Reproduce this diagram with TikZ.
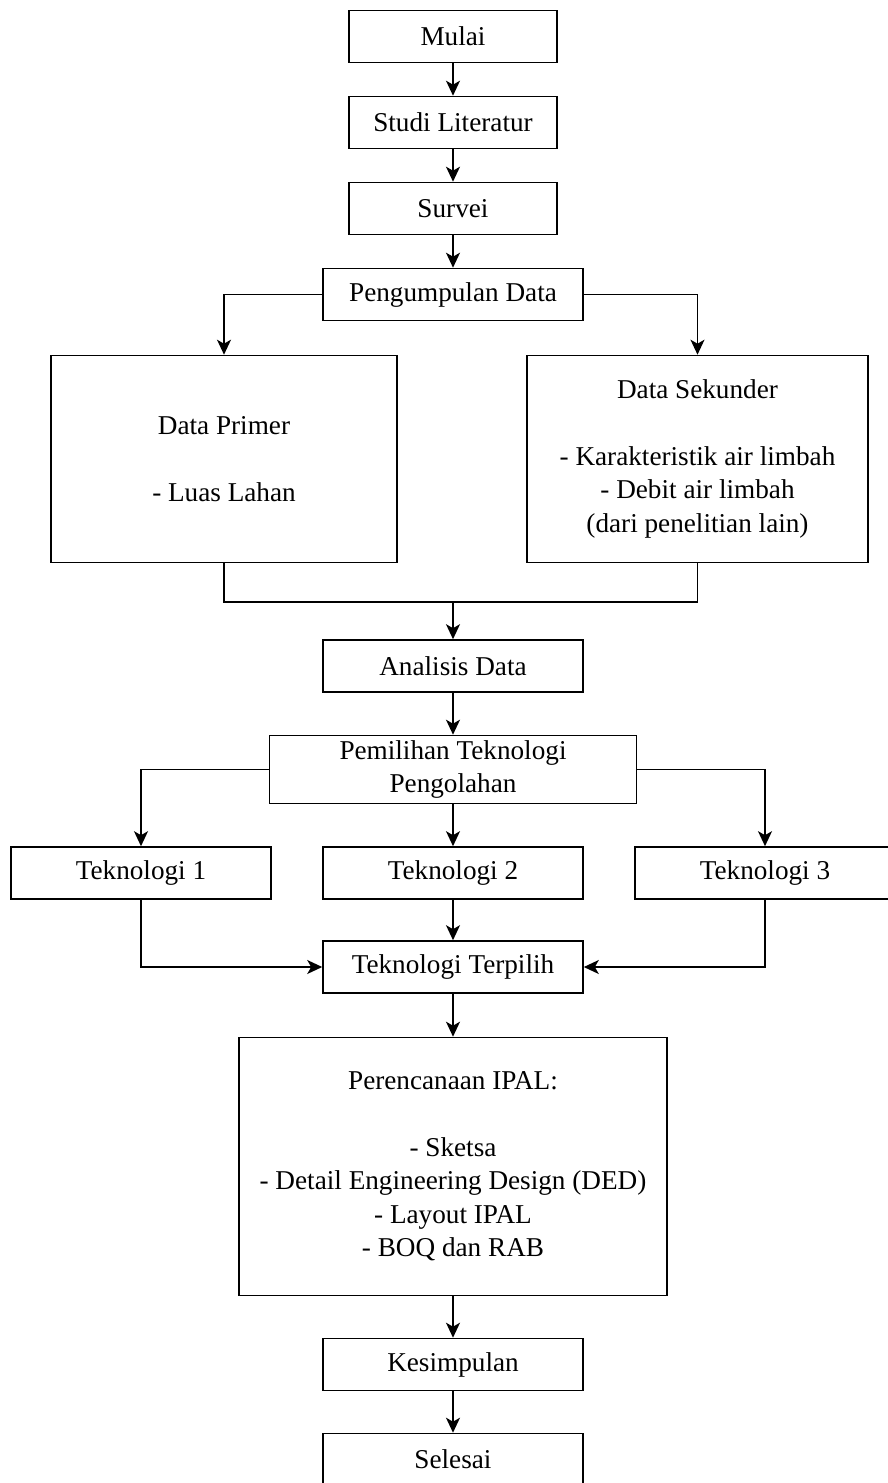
\documentclass[tikz,border=0pt]{standalone}
\usepackage{fontspec}
\setmainfont{Liberation Serif}
\usetikzlibrary{arrows.meta,positioning}

\begin{document}
\begin{tikzpicture}[node distance=43pt, line width=0.8pt,
  box/.style={draw, rectangle, align=center, inner sep=0pt, minimum width=130pt, minimum height=26pt, font=\fontsize{13.6pt}{16.7pt}\selectfont},
  narrow/.style={box, minimum width=104pt},
  >={Stealth[length=7.5pt,width=7pt,inset=2pt]}]
\useasboundingbox (0,0) rectangle (444pt,-741.5pt);
\node (mulai) [narrow] at (226.5pt,-18.25pt) {Mulai};
\node (studi) [narrow, below of=mulai] {Studi Literatur};
\node (survei) [narrow, below of=studi] {Survei};
\node (kumpul) [box, below of=survei] {Pengumpulan Data};
\node (primer) [box, node distance=82.25pt, below of=kumpul, xshift=-114.5pt, minimum width=173pt, minimum height=103.5pt] {Data Primer\\[16.7pt]- Luas Lahan};
\node (sekunder) [box, node distance=82.25pt, below of=kumpul, xshift=122.25pt, minimum width=170.5pt, minimum height=103.5pt] {Data Sekunder\\[16.7pt]- Karakteristik air limbah\\- Debit air limbah\\(dari penelitian lain)};
\coordinate (gabung) at (226.5pt,-301pt);
\node (analisis) [box, node distance=185.75pt, below of=kumpul] {Analisis Data};
\node (pilih) [box, node distance=51.75pt, below of=analisis, minimum width=183.5pt, minimum height=34pt] {Pemilihan Teknologi\\Pengolahan};
\node (tek2) [box, node distance=51.75pt, below of=pilih] {Teknologi 2};
\node (tek1) [box, node distance=156pt, left of=tek2] {Teknologi 1};
\node (tek3) [box, node distance=156pt, right of=tek2] {Teknologi 3};
\node (terpilih) [box, node distance=47pt, below of=tek2] {Teknologi Terpilih};
\node (ipal) [box, node distance=99.75pt, below of=terpilih, minimum width=214pt, minimum height=129pt] {Perencanaan IPAL:\\[16.7pt]- Sketsa\\- Detail Engineering Design (DED)\\- Layout IPAL\\- BOQ dan RAB};
\node (simpul) [box, node distance=99pt, below of=ipal] {Kesimpulan};
\node (selesai) [box, node distance=47.5pt, below of=simpul] {Selesai};
\draw[->] (mulai) -- (studi);
\draw[->] (studi) -- (survei);
\draw[->] (survei) -- (kumpul);
\draw[->] (kumpul.west) -| (primer.north);
\draw[->] (kumpul.east) -| (sekunder.north);
\draw (primer.south) |- (gabung);
\draw (sekunder.south) |- (gabung);
\draw[->] (gabung) -- (analisis);
\draw[->] (analisis) -- (pilih);
\draw[->] (pilih.west) -| (tek1.north);
\draw[->] (pilih) -- (tek2);
\draw[->] (pilih.east) -| (tek3.north);
\draw[->] (tek1.south) |- (terpilih.west);
\draw[->] (tek2) -- (terpilih);
\draw[->] (tek3.south) |- (terpilih.east);
\draw[->] (terpilih) -- (ipal);
\draw[->] (ipal) -- (simpul);
\draw[->] (simpul) -- (selesai);
\end{tikzpicture}
\end{document}
